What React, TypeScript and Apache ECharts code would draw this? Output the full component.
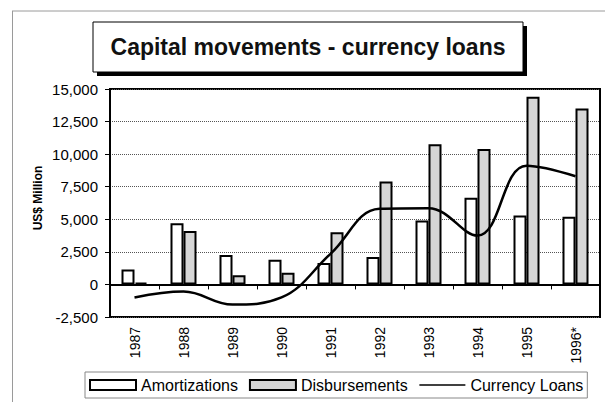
import React, { useEffect, useRef } from "react";
import * as echarts from "echarts";

const years = ["1987", "1988", "1989", "1990", "1991", "1992", "1993", "1994", "1995", "1996*"];
const amortizations = [1150, 4700, 2250, 1900, 1650, 2100, 4900, 6650, 5300, 5200];
const disbursements = [150, 4100, 700, 900, 4000, 7900, 10750, 10400, 14400, 13500];
const currencyLoans = [-1000, -550, -1550, -1000, 2350, 5800, 5850, 3750, 9100, 8300];
const yTicks = { min: -2500, max: 15000, interval: 2500 };
const titleText = "Capital movements - currency loans";
const yAxisTitle = "US$ Million";

const FONT = "'Liberation Sans', Arial, sans-serif";

export default function App() {
  const ref = useRef<HTMLDivElement>(null);
  useEffect(() => {
    if (!ref.current) return;
    const chart = echarts.init(ref.current, undefined, { renderer: "svg" });
    chart.setOption({
      animation: false,
      backgroundColor: "#fff",
      textStyle: { fontFamily: FONT },
      grid: {
        left: 110,
        right: 5,
        top: 89,
        bottom: 85,
        show: true,
        borderColor: "#000",
        borderWidth: 2,
        backgroundColor: "transparent",
      },
      graphic: [
        { type: "line", shape: { x1: 12, y1: 11, x2: 605, y2: 11 }, style: { stroke: "#9a9a9a", lineWidth: 1 } },
        { type: "line", shape: { x1: 12.5, y1: 11, x2: 12.5, y2: 402 }, style: { stroke: "#9a9a9a", lineWidth: 1 } },
        { type: "rect", shape: { x: 97, y: 26, width: 430, height: 50 }, style: { fill: "#000" } },
        { type: "rect", shape: { x: 93, y: 22, width: 430, height: 50 }, style: { fill: "#fff", stroke: "#000", lineWidth: 1 } },
        {
          type: "text",
          x: 308,
          y: 47,
          style: {
            text: titleText,
            font: `bold 23px ${FONT}`,
            fill: "#111",
            textAlign: "center",
            textVerticalAlign: "middle",
          },
        },
        {
          type: "text",
          x: 38,
          y: 198,
          rotation: Math.PI / 2,
          style: {
            text: yAxisTitle,
            font: `bold 12px ${FONT}`,
            fill: "#000",
            textAlign: "center",
            textVerticalAlign: "middle",
          },
        },
      ],
      legend: {
        left: 85,
        top: 372,
        itemWidth: 46,
        itemHeight: 10,
        itemGap: 11,
        padding: [5, 4, 5, 4],
        borderColor: "#888",
        borderWidth: 1,
        textStyle: { fontSize: 16, color: "#000", fontFamily: FONT },
        data: [
          { name: "Amortizations", icon: "rect" },
          { name: "Disbursements", icon: "rect" },
          { name: "Currency Loans", lineStyle: { width: 1.5 }, itemStyle: { opacity: 0 } },
        ],
      },
      xAxis: [
        {
          type: "category",
          data: years,
          position: "bottom",
          axisLine: { show: false, onZero: false },
          axisTick: { show: false },
          axisLabel: { rotate: 90, fontSize: 14, color: "#000", margin: 10, fontFamily: FONT },
          splitLine: { show: false },
        },
        {
          type: "category",
          data: years,
          position: "bottom",
          axisLine: { show: true, onZero: true, lineStyle: { color: "#000", width: 2 } },
          axisTick: { show: true, length: 5, lineStyle: { color: "#000", width: 1 } },
          axisLabel: { show: false },
          splitLine: { show: false },
        },
      ],
      yAxis: {
        type: "value",
        min: yTicks.min,
        max: yTicks.max,
        interval: yTicks.interval,
        axisLine: { show: true, lineStyle: { color: "#000", width: 2 } },
        axisTick: { show: true, length: 5, lineStyle: { color: "#000", width: 1 } },
        axisLabel: {
          fontSize: 15,
          color: "#000",
          margin: 12,
          fontFamily: FONT,
          formatter: (v: number) => v.toLocaleString("en-US"),
        },
        splitLine: { show: true, lineStyle: { color: "#555", type: "dotted", width: 1 } },
      },
      series: [
        {
          name: "Amortizations",
          type: "bar",
          xAxisIndex: 0,
          data: amortizations,
          barWidth: 13,
          barGap: "0%",
          itemStyle: { color: "#fff", borderColor: "#000", borderWidth: 2 },
        },
        {
          name: "Disbursements",
          type: "bar",
          xAxisIndex: 0,
          data: disbursements,
          barWidth: 13,
          barGap: "0%",
          itemStyle: { color: "#d6d6d6", borderColor: "#000", borderWidth: 2 },
        },
        {
          name: "Currency Loans",
          type: "line",
          xAxisIndex: 0,
          data: currencyLoans,
          smooth: 0.4,
          symbol: "none",
          showSymbol: false,
          lineStyle: { color: "#000", width: 2.5 },
          itemStyle: { color: "#000" },
          z: 5,
        },
      ],
    });
    return () => chart.dispose();
  }, []);
  return (
    <div
      ref={ref}
      style={{ position: "fixed", left: 0, top: 0, width: 605, height: 402 }}
    />
  );
}
